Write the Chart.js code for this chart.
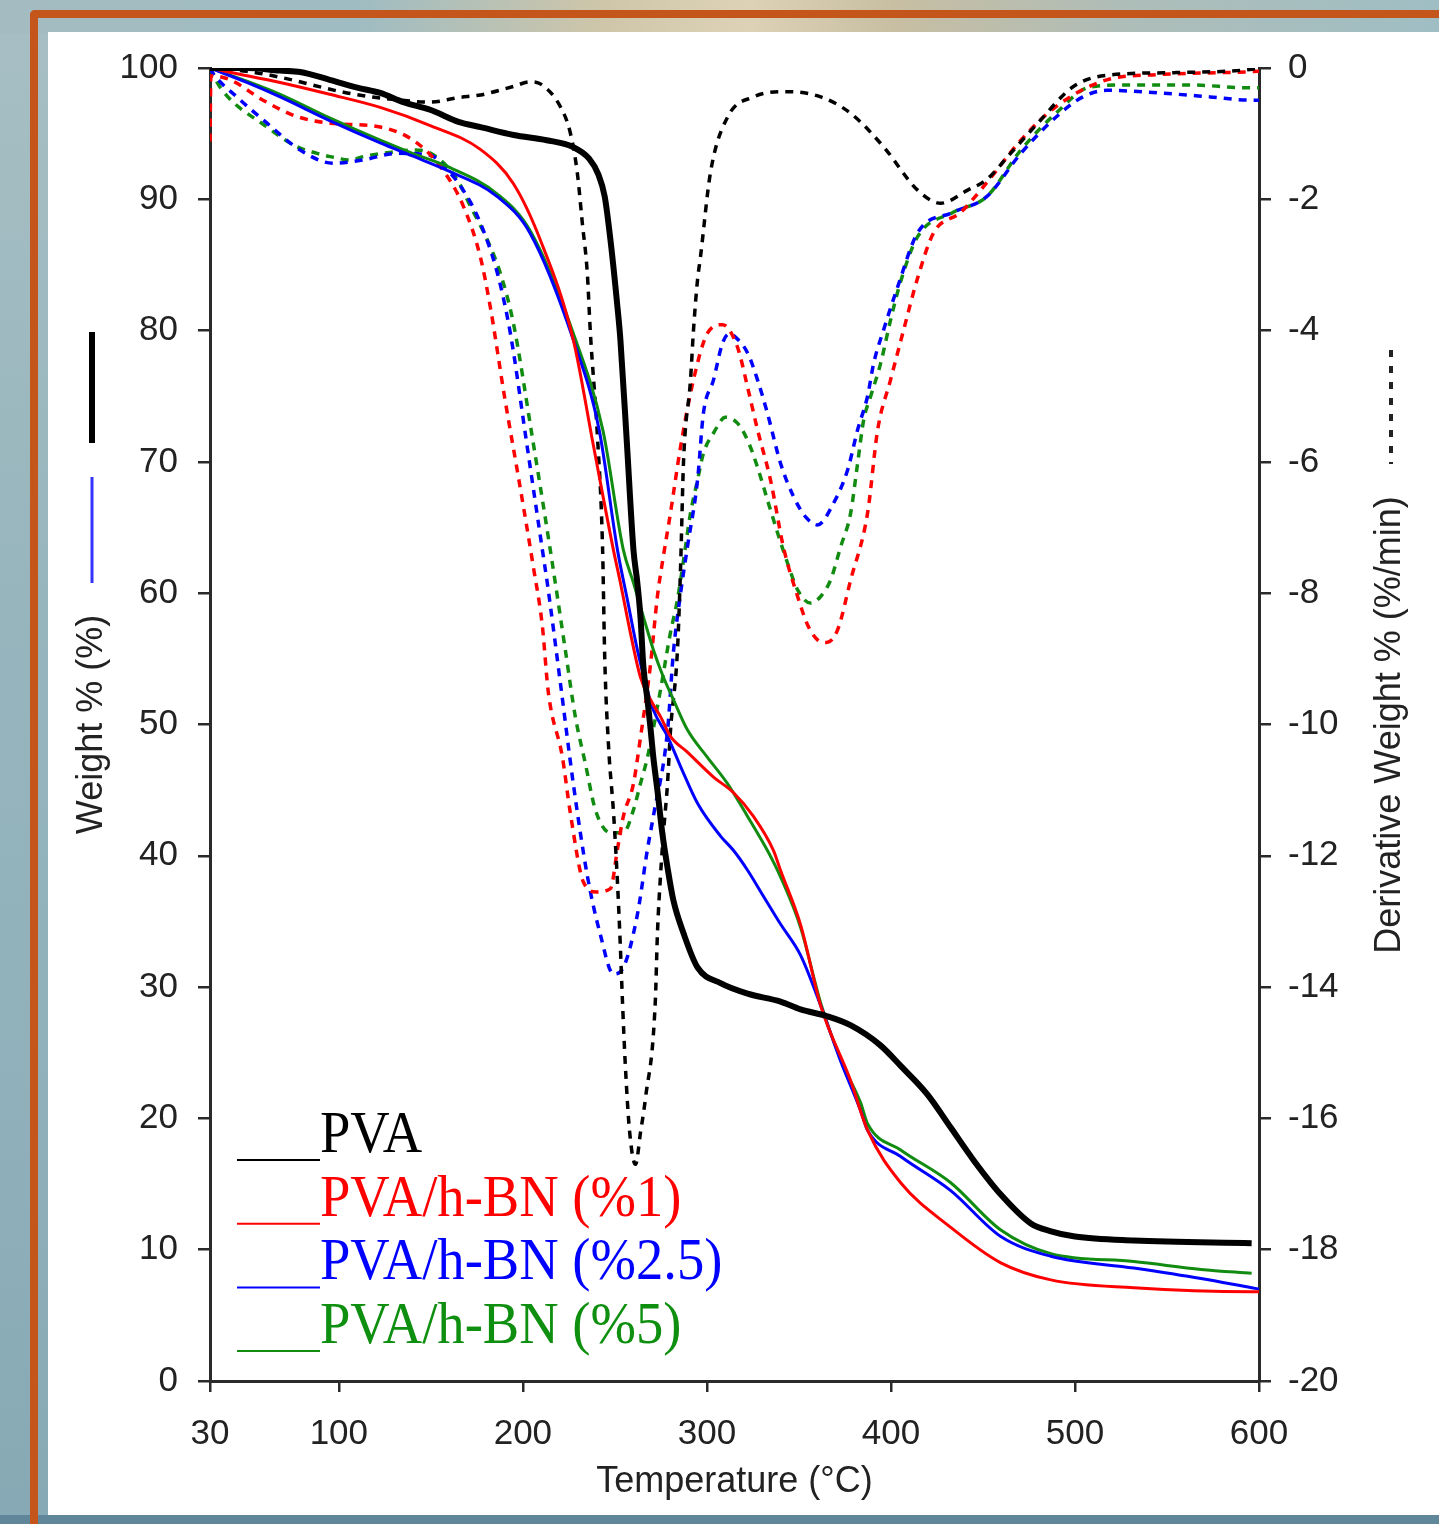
<!DOCTYPE html>
<html>
<head>
<meta charset="utf-8">
<script src="https://cdn.jsdelivr.net/npm/chart.js@4.4.1/dist/chart.umd.min.js"></script>
<style>
  html, body { margin: 0; padding: 0; width: 1439px; height: 1524px; overflow: hidden; }
  body { position: relative; background: linear-gradient(180deg, #a7bfc4 0%, #97b5bd 40%, #8fb0ba 75%, #86a9b5 100%); }
  #topglow { position: absolute; left: 0; top: 0; width: 1439px; height: 34px;
    background: linear-gradient(90deg, #a4bcc1 0%, #9fbcc2 25%, #cfc6a9 42%, #ddd2b5 52%, #c8bea2 62%, #aebdb8 78%, #9fbec4 100%); }
  #bottomband { position: absolute; left: 0; top: 1515px; width: 1439px; height: 9px; background: #5f8799; }
  #frame { position: absolute; left: 30px; top: 10px; width: 1420px; height: 1530px;
    border-left: 8px solid #c4561c; border-top: 8px solid #c4561c; border-top-left-radius: 5px; box-sizing: border-box; }
  #panel { position: absolute; left: 48px; top: 32px; width: 1391px; height: 1483px; background: #ffffff; }
  #c { position: absolute; left: 0; top: 0; }
</style>
</head>
<body>
<div id="topglow"></div>
<div id="bottomband"></div>
<div id="frame"></div>
<div id="panel"></div>
<canvas id="c" width="1439" height="1524"></canvas>
<script>
// ---- tick labels ----
const xTicks = [30, 100, 200, 300, 400, 500, 600];

// ---- series labels & colours ----
const seriesLabels = ['PVA', 'PVA/h-BN (%1)', 'PVA/h-BN (%2.5)', 'PVA/h-BN (%5)'];
const seriesColors = ['#000000', '#ff0000', '#0000ff', '#118c11'];

// ---- Weight % (left axis): [temperature, weight] ----
const pvaWeight = [[30,100],[50,100],[68,99.8],[79,99.7],[95,99.1],[110,98.5],[122.5,98.1],[135,97.4],[150,96.8],[165,95.9],[177,95.5],[195,94.9],[213,94.5],[227,94.0],[236,93.1],[241,91.9],[244.5,90.2],[247.6,86.9],[251.4,81.8],[253,79.3],[256.5,71.5],[260.1,63.3],[262.2,60.8],[263.9,58.2],[265.5,54.4],[267.7,51.9],[269.3,49.8],[270.9,47.5],[273.1,45.0],[275.8,41.7],[278.6,39.1],[281.8,36.6],[287.3,34.1],[294.9,31.5],[307.4,30.3],[322.1,29.5],[340,28.9],[350.9,28.3],[365,27.8],[378,27.1],[394,25.6],[405.3,24.0],[420,21.8],[432.5,19.3],[445,16.8],[459.7,14.2],[476,12.0],[487,11.4],[500,11.0],[532,10.7],[596,10.5]];
const bn1Weight = [[30,100],[40,99.7],[68.1,98.9],[95,98.0],[122.5,97.0],[150,95.6],[176.9,93.8],[194.8,91.2],[209.5,86.9],[227.4,79.3],[238,71.5],[249.2,63.3],[253,60.8],[258.4,57.0],[263.9,53.6],[269.3,51.9],[274.8,50.6],[280.2,49.1],[289.4,47.9],[303.6,46.0],[314.5,44.8],[325.3,43.0],[336.2,40.4],[340,38.9],[351,34.7],[361.8,28.6],[378,22.9],[387.3,19.1],[405.3,15.1],[432.5,11.7],[459.7,9.0],[486.9,7.7],[532,7.1],[596,6.8],[600,6.8]];
const bn25Weight = [[30,100],[50,98.9],[68.1,97.8],[95,96.0],[122.5,94.3],[140,93.3],[158.9,92.2],[186.1,90.2],[204,87.4],[227.4,79.3],[241.5,72.4],[251.4,63.3],[256.8,59.5],[262.2,55.7],[267.7,52.6],[270.9,51.1],[278.6,49.1],[285.7,46.8],[294.9,44.0],[307.4,41.5],[314.5,40.4],[322.1,38.9],[330.8,36.9],[340,34.8],[351,32.4],[361.8,28.6],[372.6,24.4],[383.5,20.6],[387.3,19.1],[405.3,17.1],[432.5,14.5],[459.7,11.0],[486.9,9.5],[532,8.6],[568.5,7.8],[596,7.1],[600,7.0]];
const bn5Weight = [[30,100],[50,99.0],[68.1,98.0],[95,96.2],[122.5,94.5],[140,93.5],[158.9,92.5],[186.1,90.4],[204,87.6],[227.4,79.8],[243.5,72.4],[254.6,63.3],[260.1,60.8],[265.5,58.2],[270.9,55.7],[276.4,53.6],[281.8,51.9],[289.4,49.6],[300.3,47.5],[311.2,45.5],[322.1,43.0],[332.9,40.4],[340,38.4],[351,34.5],[361.8,28.8],[372.6,24.5],[383.5,21.2],[387.3,19.6],[405.3,17.6],[432.5,15.1],[459.7,11.5],[486.9,9.7],[532,9.1],[568.5,8.5],[596,8.2]];

// ---- Derivative weight (right axis): [temperature, %/min] ----
const pvaDeriv = [[30,0],[50,-0.05],[68,-0.14],[104.5,-0.38],[130,-0.48],[150,-0.52],[165,-0.45],[177,-0.41],[195,-0.28],[204,-0.21],[210,-0.25],[220.4,-0.59],[225.8,-0.99],[229.6,-1.6],[232.3,-2.36],[235,-3.12],[236.7,-4.04],[240.5,-5.6],[243.3,-7.3],[244.5,-9.0],[246.5,-10.3],[249.4,-11.4],[251.4,-12.4],[253,-13.4],[254.1,-14.2],[255.7,-15.2],[258,-16.2],[261.2,-16.7],[264,-16.2],[266.6,-15.7],[272,-14.2],[273.1,-13.2],[274.8,-12.3],[276.4,-11.65],[278.6,-10.9],[280.2,-10.1],[284,-8.87],[285.7,-7.6],[287.3,-6.0],[291.1,-4.75],[292.7,-4.0],[294.9,-3.23],[296.5,-2.88],[301.9,-1.6],[311.2,-0.75],[325.3,-0.44],[343.8,-0.36],[361.8,-0.44],[378.1,-0.69],[396,-1.2],[414.5,-1.86],[427,-2.06],[441.7,-1.86],[452,-1.7],[465,-1.3],[479.8,-0.84],[498.8,-0.29],[517.3,-0.11],[554.9,-0.07],[592.4,-0.03],[600,0]];
const bn1Deriv = [[30,-1.12],[30.5,-0.12],[40.9,-0.18],[58.8,-0.49],[77.3,-0.74],[95.3,-0.84],[122.5,-0.9],[140.4,-1.1],[155.1,-1.5],[167.6,-2.1],[176.9,-2.88],[182.3,-3.64],[190,-5.0],[198,-6.3],[205.7,-7.6],[210.6,-8.5],[213.8,-9.5],[221.5,-10.5],[225.8,-11.35],[232.9,-12.4],[240,-12.55],[247.6,-12.5],[251.4,-11.9],[254.6,-11.4],[260.1,-10.9],[263.9,-10.2],[269.3,-9.1],[273.1,-8.05],[276,-7.5],[280.2,-6.78],[285.7,-5.77],[292.7,-4.75],[300.3,-4.04],[308.5,-3.91],[316.6,-4.25],[322.1,-4.86],[327.5,-5.51],[334.6,-6.28],[341.6,-7.3],[349.3,-8.05],[355,-8.5],[360.1,-8.71],[365,-8.75],[371,-8.56],[378.1,-7.8],[387.3,-6.78],[392.8,-5.51],[399.8,-4.75],[406.9,-3.99],[414.5,-3.2],[423.2,-2.51],[437.9,-2.2],[452,-1.75],[470.6,-1.1],[489.6,-0.59],[517.3,-0.18],[545.6,-0.1],[592.4,-0.06],[600,-0.05]];
const bn25Deriv = [[30,0],[31.6,-0.08],[45,-0.45],[61,-0.84],[79,-1.25],[96.9,-1.45],[113.2,-1.4],[131.7,-1.3],[149.7,-1.33],[158.9,-1.55],[167.6,-1.86],[176.9,-2.36],[186.1,-3.12],[193.2,-4.04],[202,-5.7],[210.6,-7.34],[213.3,-7.85],[220.4,-9.37],[227.4,-10.9],[235,-12.3],[242.1,-13.2],[249.2,-13.8],[254.6,-13.7],[262.2,-12.9],[267.7,-11.9],[270.9,-11.4],[278.6,-10.1],[281.8,-8.9],[285.7,-8.0],[289.4,-7.3],[294.9,-6.28],[298.1,-5.26],[303.6,-4.75],[308.5,-4.19],[312,-4.05],[315.5,-4.1],[322.1,-4.34],[327.5,-4.75],[332.9,-5.26],[340,-6.02],[347.1,-6.53],[354,-6.85],[360.1,-6.96],[368.8,-6.63],[376.5,-6.12],[381.9,-5.51],[387.3,-5.0],[390.6,-4.5],[396,-3.99],[403.7,-3.33],[414.5,-2.51],[433.6,-2.2],[452,-1.96],[470.6,-1.3],[489.6,-0.75],[504.3,-0.44],[517.3,-0.34],[545.6,-0.38],[573.4,-0.44],[595.6,-0.49],[600,-0.49]];
const bn5Deriv = [[30,0],[35.4,-0.29],[61,-0.9],[77.3,-1.2],[88.2,-1.3],[95.3,-1.35],[106.1,-1.4],[113.2,-1.35],[124.1,-1.3],[140.4,-1.25],[150,-1.3],[164.3,-1.7],[171.4,-2.1],[180.7,-2.62],[187.7,-3.12],[194.8,-3.88],[205,-5.6],[214.9,-7.34],[223.1,-8.87],[228.5,-9.88],[234,-10.6],[239.4,-11.3],[247.6,-11.65],[254.6,-11.65],[260.1,-11.3],[263.9,-10.9],[267.7,-10.5],[274.8,-9.47],[280.2,-8.6],[284,-8.1],[287.3,-7.5],[291.1,-6.78],[294.9,-6.28],[298.1,-5.87],[303.6,-5.56],[310.1,-5.32],[316.6,-5.41],[322.1,-5.67],[327.5,-6.08],[332.9,-6.58],[338.4,-7.08],[343.8,-7.54],[349.3,-7.95],[356.3,-8.15],[361.8,-8.05],[367.2,-7.8],[372.6,-7.3],[378.1,-6.78],[381.9,-6.02],[385.2,-5.36],[389,-5.0],[394.4,-4.5],[399.8,-3.84],[405.3,-3.25],[414.5,-2.57],[433.6,-2.2],[452,-1.96],[470.6,-1.25],[489.6,-0.69],[508.1,-0.29],[526.6,-0.26],[564.1,-0.26],[592.4,-0.3],[600,-0.3]];

const weightSeries = [pvaWeight, bn1Weight, bn25Weight, bn5Weight];
const derivSeries = [pvaDeriv, bn1Deriv, bn25Deriv, bn5Deriv];

const toXY = arr => arr.map(p => ({ x: p[0], y: p[1] }));

const datasets = [];
weightSeries.forEach((s, i) => {
  datasets.push({
    label: seriesLabels[i] + ' – weight',
    data: toXY(s),
    yAxisID: 'y',
    borderColor: seriesColors[i],
    borderWidth: i === 0 ? 6 : 3,
    order: i === 0 ? 0 : 1 + i,
  });
});
derivSeries.forEach((s, i) => {
  datasets.push({
    label: seriesLabels[i] + ' – derivative',
    data: toXY(s),
    yAxisID: 'y2',
    borderColor: seriesColors[i],
    borderWidth: 3.5,
    borderDash: [8, 7],
    order: 6 + i,
  });
});

const AXIS = '#2a2a2a';
const TEXT = '#222222';
const tickFont = { family: '"Liberation Sans", Arial, sans-serif', size: 35 };
const titleFont = { family: '"Liberation Sans", Arial, sans-serif', size: 36 };

const decorations = {
  id: 'decorations',
  afterDraw(chart) {
    const ctx = chart.ctx;
    ctx.save();
    // key bars next to the left axis title
    ctx.lineCap = 'butt';
    ctx.strokeStyle = '#000'; ctx.lineWidth = 6;
    ctx.beginPath(); ctx.moveTo(92, 332); ctx.lineTo(92, 443); ctx.stroke();
    ctx.strokeStyle = '#3333ff'; ctx.lineWidth = 3;
    ctx.beginPath(); ctx.moveTo(92, 477); ctx.lineTo(92, 583); ctx.stroke();
    // dotted key next to the right axis title
    ctx.strokeStyle = '#222'; ctx.lineWidth = 4; ctx.setLineDash([7, 9]);
    ctx.beginPath(); ctx.moveTo(1391, 350); ctx.lineTo(1391, 464); ctx.stroke();
    ctx.setLineDash([]);
    // right axis title (reads bottom to top)
    ctx.fillStyle = TEXT;
    ctx.font = '36px "Liberation Sans", Arial, sans-serif';
    ctx.textAlign = 'center'; ctx.textBaseline = 'middle';
    ctx.translate(1390, 725); ctx.rotate(-Math.PI / 2);
    ctx.fillText('Derivative Weight % (%/min)', 0, 0);
    ctx.restore();

    // legend
    ctx.save();
    ctx.font = '60px "Liberation Serif", "Times New Roman", serif';
    ctx.textAlign = 'left'; ctx.textBaseline = 'alphabetic';
    seriesLabels.forEach((lab, i) => {
      const yb = 1152 + i * 63.7;
      ctx.strokeStyle = seriesColors[i]; ctx.lineWidth = 2;
      ctx.beginPath(); ctx.moveTo(237, yb + 8); ctx.lineTo(320, yb + 8); ctx.stroke();
      ctx.fillStyle = seriesColors[i] === '#118c11' ? '#0f8f0f' : seriesColors[i];
      ctx.save(); ctx.translate(320, yb); ctx.scale(0.91, 1);
      ctx.fillText(lab, 0, 0);
      ctx.restore();
    });
    ctx.restore();
  }
};

new Chart(document.getElementById('c'), {
  type: 'line',
  data: { datasets },
  plugins: [decorations],
  options: {
    responsive: false,
    animation: false,
    devicePixelRatio: 1,
    layout: { padding: { top: 68, left: 0, right: 0, bottom: 0 } },
    plugins: { legend: { display: false }, tooltip: { enabled: false } },
    elements: {
      point: { radius: 0 },
      line: { tension: 0.4, cubicInterpolationMode: 'monotone', fill: false }
    },
    scales: {
      x: {
        type: 'linear', position: 'bottom', min: 30, max: 600,
        afterBuildTicks: s => { s.ticks = xTicks.map(v => ({ value: v })); },
        afterFit: s => { s.height = 143; },
        grid: { drawOnChartArea: false, drawTicks: true, tickLength: 11, color: AXIS, lineWidth: 2.5 },
        border: { display: true, color: AXIS, width: 3 },
        ticks: { font: tickFont, color: TEXT, padding: 21, maxRotation: 0, autoSkip: false },
        title: { display: true, text: 'Temperature (°C)', font: titleFont, color: TEXT, padding: { top: 0, bottom: 20 } }
      },
      y: {
        position: 'left', min: 0, max: 100,
        afterFit: s => { s.width = 210; },
        grid: { drawOnChartArea: false, drawTicks: true, tickLength: 12, color: AXIS, lineWidth: 2.5 },
        border: { display: true, color: AXIS, width: 3 },
        ticks: { stepSize: 10, font: tickFont, color: TEXT, padding: 20 },
        title: { display: true, text: 'Weight % (%)', font: titleFont, color: TEXT, padding: { top: 70, bottom: 0 } }
      },
      y2: {
        position: 'right', min: -20, max: 0,
        afterFit: s => { s.width = 180; },
        grid: { drawOnChartArea: false, drawTicks: true, tickLength: 12, color: AXIS, lineWidth: 2.5 },
        border: { display: true, color: AXIS, width: 3 },
        ticks: { stepSize: 2, font: tickFont, color: TEXT, padding: 17 },
        title: { display: false }
      }
    }
  }
});
</script>
</body>
</html>
